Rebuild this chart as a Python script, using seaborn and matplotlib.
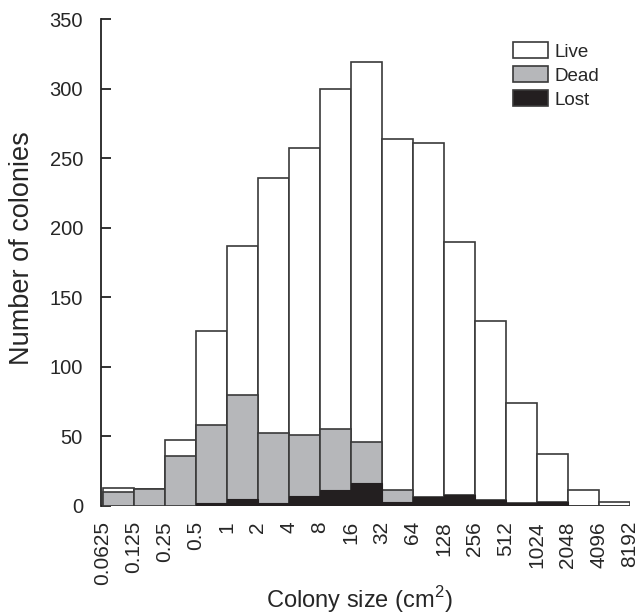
import numpy as np
import matplotlib
matplotlib.use('Agg')
import matplotlib.pyplot as plt
from matplotlib.patches import Patch
import seaborn as sns

# colony size bin edges (cm2), 17 bins between 18 edges
aEdge_label = ['0.0625', '0.125', '0.25', '0.5', '1', '2', '4', '8', '16', '32',
               '64', '128', '256', '512', '1024', '2048', '4096', '8192']
# counts per bin
aTotal = [13, 12, 47, 126, 187, 236, 257, 300, 319, 264, 261, 190, 133, 74, 37, 11, 3]
aDead = [10, 12, 36, 56, 75, 50, 44, 44, 30, 8, 0, 0, 0, 0, 0, 0, 0]
aLost = [0, 0, 0, 2, 5, 2, 7, 11, 16, 3, 6, 8, 4, 2, 3, 0, 0]
aLive = list(np.array(aTotal) - np.array(aDead) - np.array(aLost))

sns.set_style('ticks')
plt.rcParams['font.family'] = ['Liberation Sans', 'DejaVu Sans']
plt.rcParams['mathtext.fontset'] = 'custom'
plt.rcParams['mathtext.rm'] = 'Liberation Sans'

sColor_live = 'white'
sColor_dead = '#b6b7ba'
sColor_lost = '#231f20'
sColor_edge = '#3a3a3a'

fig = plt.figure(figsize=(6.38, 6.16), dpi=100)
ax = fig.add_axes([0.1583, 0.179, 0.8285, 0.790])

aBin = np.arange(len(aTotal))
aCum_live = np.array(aLive) + np.array(aDead) + np.array(aLost)
aCum_dead = np.array(aDead) + np.array(aLost)
aCum_lost = np.array(aLost)

# stacked by overdrawing cumulative bars
sns.barplot(x=aBin, y=aCum_live, color=sColor_live, saturation=1, width=1,
            edgecolor=sColor_edge, linewidth=1.2, ax=ax)
sns.barplot(x=aBin, y=aCum_dead, color=sColor_dead, saturation=1, width=1,
            edgecolor=sColor_edge, linewidth=1.2, ax=ax)
sns.barplot(x=aBin, y=aCum_lost, color=sColor_lost, saturation=1, width=1,
            edgecolor=sColor_lost, linewidth=0.8, ax=ax)

ax.set_xlim(-0.56, 16.5)
ax.set_ylim(0, 350)
ax.set_yticks(np.arange(0, 351, 50))
ax.set_xticks(np.arange(len(aEdge_label)) - 0.5)
ax.set_xticklabels(aEdge_label, rotation=90, fontsize=15, va='top', ha='center')
ax.tick_params(axis='x', length=0, pad=11)
ax.tick_params(axis='y', direction='in', length=7, width=1.3, pad=13,
               labelsize=14.5, color='#222222')

sns.despine(ax=ax, top=True, right=True, bottom=True)
ax.spines['left'].set_linewidth(1.3)
ax.spines['left'].set_color('#222222')

ax.set_ylabel('Number of colonies', fontsize=19.5)
ax.yaxis.set_label_coords(-0.125, 0.53)
ax.set_xlabel(r'Colony size (cm$^{2}$)', fontsize=17)
ax.xaxis.set_label_coords(0.488, -0.162)

aHandle = [Patch(facecolor=sColor_live, edgecolor=sColor_edge, linewidth=1.2, label='Live'),
           Patch(facecolor=sColor_dead, edgecolor=sColor_edge, linewidth=1.2, label='Dead'),
           Patch(facecolor=sColor_lost, edgecolor=sColor_edge, linewidth=1.2, label='Lost')]
ax.legend(handles=aHandle, loc='upper left', bbox_to_anchor=(513 / 638, 1 - 42 / 616),
          bbox_transform=fig.transFigure, frameon=False, fontsize=13.5,
          handlelength=1.85, handleheight=0.95, labelspacing=0.3,
          handletextpad=0.35, borderpad=0, borderaxespad=0)

plt.savefig('out.png', dpi=100)
